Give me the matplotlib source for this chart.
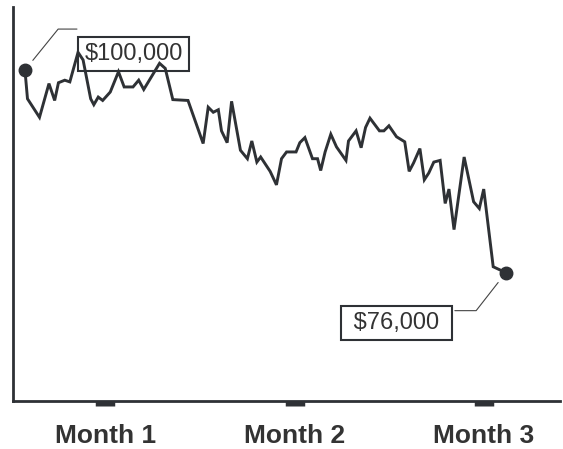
import numpy as np
import matplotlib.pyplot as plt

# portfolio value over three months (days from start)
days = [0, 0.4, 2.3, 3.8, 4.7, 5.3, 6.3, 7.1, 8.4, 9.2,
        10.4, 10.9, 11.6, 12.3, 13.5, 14.8, 15.7, 17.1, 18.0, 18.8,
        21.3, 22.2, 23.4, 25.8, 28.2, 29.0, 29.8, 30.6, 31.1, 32.0,
        32.7, 34.1, 35.2, 35.9, 36.7, 37.3, 38.8, 39.8, 40.6, 41.4,
        42.9, 43.5, 44.3, 45.5, 46.3, 46.8, 47.5, 48.4, 49.3, 50.8,
        51.2, 52.4, 53.2, 53.9, 54.6, 56.1, 56.8, 57.6, 58.8, 60.1,
        60.8, 61.5, 62.5, 63.2, 63.9, 64.7, 65.7, 66.5, 67.1, 67.9,
        69.5, 71.0, 71.9, 72.6, 74.1, 76.1]
values = [100000, 96600, 94400, 98400, 96400, 98500, 98800, 98600, 102100, 101200,
          96600, 95900, 96800, 96400, 97400, 99800, 98000, 98000, 98800, 97700,
          100800, 100200, 96500, 96400, 91300, 95600, 95000, 95300, 92800, 91400,
          96300, 90500, 89500, 91600, 89100, 89700, 88000, 86400, 89500, 90300,
          90300, 91400, 92000, 89500, 89500, 88100, 90300, 92400, 90900, 89300,
          91600, 92800, 90800, 93200, 94300, 92800, 92800, 93400, 92100, 91500,
          88000, 89000, 90700, 87000, 87800, 89100, 89300, 84200, 85900, 81100,
          89700, 84400, 83600, 85900, 76700, 76000]

month_pos = [12.7, 42.7, 72.6]
month_labels = ["Month 1", "Month 2", "Month 3"]

dark = "#2e3135"

fig = plt.figure(figsize=(5.63, 4.49), dpi=100)
ax = fig.add_axes([0.023, 0.107, 0.972, 0.877])

ax.plot(days, values, color=dark, lw=2.1, solid_joinstyle="miter", zorder=5)
ax.plot([days[0], days[-1]], [values[0], values[-1]], "o", color=dark, ms=9, zorder=6)

ax.set_xlim(-1.9, 84.7)
ax.set_ylim(60800, 107450)

for s in ["top", "right"]:
    ax.spines[s].set_visible(False)
for s in ["left", "bottom"]:
    ax.spines[s].set_color(dark)
    ax.spines[s].set_linewidth(2.0)

ax.set_yticks([])
ax.set_xticks(month_pos)
ax.set_xticklabels(month_labels, fontsize=19, fontweight="bold",
                   family="Liberation Sans", color="#333333")
ax.tick_params(axis="x", direction="out", length=3.6, width=14, color=dark, pad=13)

# start / end labels
box = dict(boxstyle="square,pad=0.25", fc="white", ec=dark, lw=1.5)
line = dict(arrowstyle="-", color="#444444", lw=0.8, shrinkA=0, shrinkB=9)

ax.annotate("", xy=(days[0], values[0]), xytext=(52, 41), textcoords="offset pixels",
            arrowprops=dict(line, connectionstyle="angle,angleA=0,angleB=51"), zorder=3)
ax.annotate("${:,}".format(values[0]), xy=(days[0], values[0]), xytext=(108.5, 16),
            textcoords="offset pixels", ha="center", va="center", zorder=3,
            fontsize=17, family="Liberation Sans", color="#333333", bbox=box)

ax.annotate("", xy=(days[-1], values[-1]), xytext=(-51, -38), textcoords="offset pixels",
            arrowprops=dict(line, connectionstyle="angle,angleA=0,angleB=52"), zorder=3)
ax.annotate(" ${:,} ".format(values[-1]), xy=(days[-1], values[-1]), xytext=(-109.5, -50),
            textcoords="offset pixels", ha="center", va="center", zorder=3,
            fontsize=17, family="Liberation Sans", color="#333333", bbox=box)

fig.savefig("out.png", dpi=100)
